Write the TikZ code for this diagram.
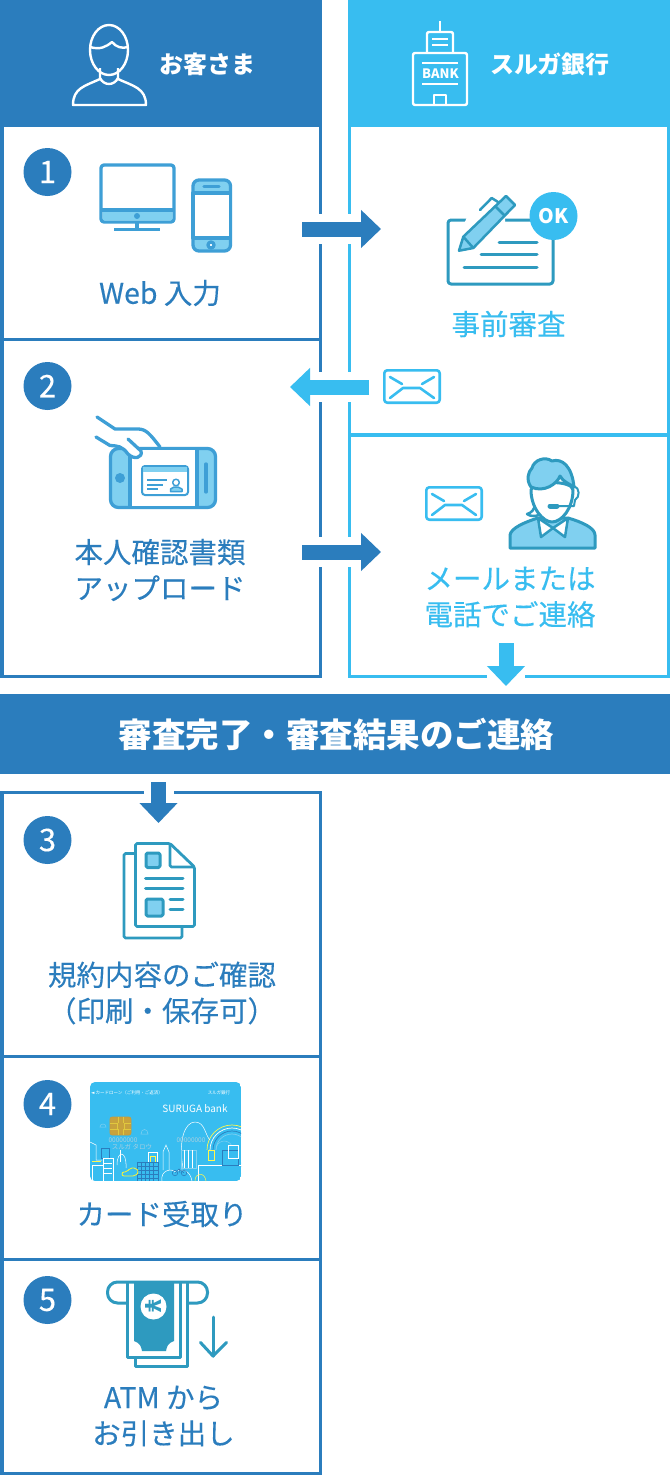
\documentclass[tikz,border=0pt]{standalone}
\usepackage{fontspec}
\setmainfont{Noto Sans CJK JP}
\newfontfamily\medfont{Noto Sans CJK JP}[FakeBold=0.25]
\newfontfamily\symfont{DejaVu Sans}
\usetikzlibrary{arrows.meta}
\definecolor{custblue}{HTML}{2B7DBD}
\definecolor{bankblue}{HTML}{38BDF0}
\definecolor{iconblue}{HTML}{3E9FD6}
\definecolor{icontint}{HTML}{80D0F0}
\definecolor{iconteal}{HTML}{2E9ABF}
\definecolor{chipgold}{HTML}{C8A23C}
\definecolor{cardgrey}{HTML}{A8CFE0}
\tikzset{
  stepbox/.style={draw=custblue,line width=3.5pt,fill=white,outer sep=0pt},
  bankbox/.style={draw=bankblue,line width=3.5pt,fill=white,outer sep=0pt},
  stepnum/.style={circle,fill=custblue,text=white,minimum size=48pt,inner sep=0pt,font=\medfont\fontsize{31}{31}\selectfont},
  steptext/.style={text=custblue,align=center,font=\medfont\fontsize{28.5}{36}\selectfont},
  banktext/.style={text=bankblue,align=center,font=\medfont\fontsize{28.5}{36}\selectfont},
  headtext/.style={text=white,font=\bfseries\fontsize{24}{24}\selectfont},
  blockarrow/.style={line width=15pt,-{Triangle[length=20pt,width=37pt]},preaction={draw=white,line width=#1,-}},
  blockarrow/.default=30pt,
  iconline/.style={draw=iconblue,line width=3.3pt,line join=round},
  tealline/.style={draw=iconteal,line width=3pt,line join=round},
  headline/.style={draw=white,line width=2.4pt,line join=round},
  mailline/.style={draw=bankblue,line width=2.6pt,line cap=round,line join=round},
  cityline/.style={draw=white,line width=.5pt},
  pics/mail/.style={code={
    \draw[mailline,rounded corners=3pt] (1.3,1.3) rectangle (56.7,33.7);
    \draw[mailline] (7,8) -- (19,15);
    \draw[mailline] (39,15) -- (51,8);
    \draw[mailline] (7,29) -- (20,19) -- (37,19) -- (51,29);
  }}
}
\begin{document}
\begin{tikzpicture}[x=1pt,y=-1pt]
\useasboundingbox (0,0) rectangle (670,1475);

% Column heads
\fill[custblue] (0,0) rectangle (322,127);
\fill[bankblue] (348,0) rectangle (670,127);
\node[headtext] (custhead) at (207,64) {お客さま};
\node[headtext] (bankhead) at (550,64) {スルガ銀行};

% Boxes
\node[stepbox,minimum width=318.5pt,minimum height=214pt] (stepone) at (161,232.7) {};
\node[stepbox,minimum width=318.5pt,minimum height=336.8pt] (steptwo) at (161,508.1) {};
\node[bankbox,minimum width=318.6pt,minimum height=309.3pt] (bankone) at (509,280.35) {};
\node[bankbox,minimum width=318.6pt,minimum height=241.5pt] (banktwo) at (509,555.7) {};
\node[stepbox,minimum width=318.5pt,minimum height=264pt] (stepthree) at (161,924.5) {};
\node[stepbox,minimum width=318.5pt,minimum height=203pt] (stepfour) at (161,1158) {};
\node[stepbox,minimum width=318.5pt,minimum height=213.8pt] (stepfive) at (161,1366.4) {};

% Band
\fill[custblue] (0,694) rectangle (670,774);
\node[text=white,inner sep=0pt,font=\bfseries\fontsize{33.5}{33.5}\selectfont] (band) at (336.5,734) {審査完了・審査結果のご連絡};

% Numbers
\node[stepnum] (numone) at (47.5,172) {1};
\node[stepnum] (numtwo) at (47.5,386) {2};
\node[stepnum] (numthree) at (47.5,840) {3};
\node[stepnum] (numfour) at (47.5,1104) {4};
\node[stepnum] (numfive) at (47.5,1300) {5};

% Labels
\node[steptext] (weblabel) at (160,293) {Web 入力};
\node[banktext] (reviewlabel) at (508.5,324) {事前審査};
\node[steptext] (uploadlabel) at (160,570) {本人確認書類\\アップロード};
\node[banktext] (contactlabel) at (510,597) {メールまたは\\電話でご連絡};
\node[steptext] (termslabel) at (162,993) {規約内容のご確認\\（印刷・保存可）};
\node[steptext] (cardlabel) at (162,1214) {カード受取り};
\node[steptext] (atmlabel) at (163.5,1416) {ATM から\\お引き出し};

% Arrows
\coordinate (webout) at (302,229);
\coordinate (reviewin) at (381,229);
\coordinate (mailout) at (369,387);
\coordinate (uploadin) at (290,387);
\coordinate (uploadout) at (302,552);
\coordinate (contactin) at (381,552);
\coordinate (contactout) at (506,643);
\coordinate (bandin) at (506,686);
\coordinate (bandout) at (158.5,782);
\coordinate (termsin) at (158.5,823);
\draw[blockarrow,custblue] (webout) -- (reviewin);
\draw[blockarrow,bankblue] (mailout) -- (uploadin);
\draw[blockarrow,custblue] (uploadout) -- (contactin);
\draw[blockarrow=38pt,bankblue] (contactout) -- (bandin);
\draw[blockarrow,custblue] (bandout) -- (termsin);

% Customer
\draw[headline] (109,50) ellipse (19 and 25);
\draw[headline] (90,47) .. controls (100,50) and (106,47) .. (112,42) .. controls (116,47) and (122,49) .. (128,47);
\draw[headline] (100,68) -- (100,78) .. controls (104,86) and (114,86) .. (118,78) -- (118,68);
\draw[headline] (100,79) .. controls (85,86) and (73,88) .. (73,105) -- (146,105) .. controls (146,88) and (133,86) .. (118,79);

% Bank
\draw[headline] (440,21) -- (440,32);
\draw[headline,rounded corners=2pt] (427,53) -- (427,32) -- (453,32) -- (453,53);
\draw[headline] (432,39) -- (448,39) (432,45) -- (448,45);
\draw[headline,rounded corners=2pt] (413,53) rectangle (467,105);
\draw[headline] (422,63) -- (458,63) (422,84) -- (458,84);
\draw[headline] (434,105) -- (434,95) -- (446,95) -- (446,105);
\node[text=white,inner sep=0pt,font=\bfseries\fontsize{13}{13}\selectfont] (banksign) at (440.5,74) {BANK};

% Monitor
\draw[iconline,fill=white,rounded corners=3pt] (101,165) rectangle (174,222);
\fill[icontint,rounded corners=2pt] (102.5,211) rectangle (172.5,220.5);
\draw[iconline] (101,210) -- (174,210);
\fill[iconblue] (137,216) circle (3);
\draw[iconline] (137,222) -- (137,229.5);
\draw[iconline] (114,229.5) -- (160,229.5);

% Phone
\draw[iconline,fill=icontint,rounded corners=6pt] (193,180) rectangle (230.5,251);
\draw[iconline,fill=white] (193,193) rectangle (230.5,238);
\draw[iconline,line cap=round] (204,186.5) -- (219,186.5);
\draw[iconline,fill=white] (211,245) circle (3);

% Pen on form
\draw[tealline,rounded corners=3pt] (448,220) rectangle (553,284);
\draw[tealline,line cap=round] (499,242) -- (537,242);
\draw[tealline,line cap=round] (481,254) -- (537,254);
\draw[tealline,line cap=round] (464,267) -- (537,267);
\fill[white] (470,210) -- (505,210) -- (505,225) -- (470,255) -- (455,245) -- cycle;
\draw[tealline,line width=2.5pt,fill=icontint] (506,196) -- (515,205) -- (473.3,248) -- (459,250.7) -- (463.3,236.7) -- cycle;
\draw[tealline,line width=2.5pt] (463.3,236.7) -- (473.3,248) (495,206) -- (505,216);
\draw[tealline,line width=2.5pt,line cap=round] (480,210) -- (491.7,198) -- (498,202);
\node[circle,fill=bankblue,text=white,minimum size=48pt,inner sep=0pt,font=\bfseries\fontsize{20}{20}\selectfont] (okmark) at (553.5,216) {OK};

% Mail
\pic at (383,369) {mail};
\pic at (425,486) {mail};

% Operator
\draw[tealline,fill=icontint] (510,548) -- (510,535) .. controls (511,528) and (525,522) .. (538,518) -- (568,518) .. controls (582,522) and (595,528) .. (595,535) -- (595,548) -- cycle;
\draw[tealline,line width=2.5pt,fill=white] (538,518) -- (541,537) -- (553,528) -- (565,537) -- (568,518) -- (553,528) -- cycle;
\draw[tealline,line width=2.5pt] (535,503) .. controls (535,510) and (531,513) .. (527,514) .. controls (531,517) and (536,516) .. (539,515);
\draw[tealline,fill=white] (531,490) .. controls (531,508) and (543,522) .. (552,522) .. controls (562,522) and (573,508) .. (573,490) .. controls (573,480) and (531,480) .. (531,490) -- cycle;
\draw[tealline,fill=icontint] (531,487) .. controls (526,480) and (528,472) .. (532,468) .. controls (534,460) and (545,456) .. (552,461) .. controls (562,458) and (572,466) .. (574,487) .. controls (570,484) and (563,482) .. (560,476) .. controls (557,484) and (544,493) .. (531,487) -- cycle;
\draw[tealline,line width=2pt] (574,486) .. controls (580,488) and (580,497) .. (575,500) -- (574,506) -- (558,506);
\draw[iconteal,line width=5pt,line cap=round] (550,506) -- (557,506);

% Phone with card
\draw[iconline,fill=icontint,rounded corners=8pt] (110.5,448.5) rectangle (215.5,507.5);
\draw[iconline,fill=white] (130,448.5) rectangle (197,507.5);
\fill[iconblue] (120,478) circle (5);
\draw[iconline,line cap=round] (206,464) -- (206,492);
\draw[iconline,line width=2pt,fill=white,rounded corners=3pt] (142,466) rectangle (188,495);
\fill[icontint] (143,467) rectangle (187,472);
\draw[iconline,line width=1.5pt] (147,480) -- (167,480) (147,485) -- (163,485) (147,489) -- (158,489);
\draw[iconline,line width=1.5pt,fill=icontint] (170.5,491.5) -- (170.5,489) -- (174,487) -- (178,487) -- (182,489) -- (182,491.5) -- cycle;
\draw[iconline,line width=1.5pt,fill=white] (176,482.5) circle (3.3);
\draw[iconline,line cap=round] (97,417) -- (115,429) -- (138,429) .. controls (146,429) and (150,434) .. (160,447);
\draw[iconline,line cap=round,fill=white] (96,437) -- (110,445.5) .. controls (118,446) and (122,446) .. (128,454) .. controls (134,460) and (143,458) .. (141,451) -- (128,439);

% Document
\draw[tealline,line width=2.8pt,rounded corners=1.5pt] (135,853.5) -- (124,853.5) -- (124,938) -- (182,938) -- (182,927);
\draw[tealline,line width=2.8pt,rounded corners=1.5pt] (170,843.5) -- (135.5,843.5) -- (135.5,926.5) -- (194.5,926.5) -- (194.5,867) -- cycle;
\draw[tealline,line width=2.8pt,rounded corners=1.5pt] (170,843.5) -- (170,867) -- (194.5,867);
\draw[tealline,fill=icontint,rounded corners=1.5pt] (146,853) rectangle (160,867.5);
\draw[tealline,fill=icontint,rounded corners=1.5pt] (146,899) rectangle (163,916);
\draw[tealline,line cap=round] (145.5,878.5) -- (183,878.5) (145.5,888.5) -- (183,888.5) (170,899) -- (183,899) (170,909) -- (183,909);

% Card
\begin{scope}
\clip[rounded corners=5pt] (90,1082) rectangle (241,1181);
\fill[bankblue] (90,1082) rectangle (241,1181);
\foreach \r/\c in {25/yellow!70!white,22/white,19/custblue,16/icontint}
  \draw[\c,line width=.7pt] (232,1150) circle (\r);
\fill[bankblue] (195,1150) rectangle (241,1181);
% clouds
\draw[cityline,icontint] (100,1127) .. controls (100,1123) and (106,1123) .. (106,1127) -- cycle;
\draw[cityline,icontint] (141,1134) .. controls (141,1128) and (148,1128) .. (148,1134) -- cycle;
\draw[cityline] (183,1168) .. controls (178,1140) and (185,1122) .. (195,1122) .. controls (205,1122) and (205,1135) .. (210,1140);
\draw[cityline,icontint] (216,1150) .. controls (216,1140) and (228,1138) .. (232,1146);
% buildings
\draw[cityline] (90,1142) -- (96,1145) -- (96,1160) -- (102,1160);
\draw[custblue,line width=.6pt] (101,1148) rectangle (109,1158);
\draw[white,line width=.7pt] (103,1158) rectangle (113,1181);
\draw[cityline] (104,1163) -- (112,1163) (104,1168) -- (112,1168) (104,1173) -- (112,1173);
\draw[cityline] (92,1165) rectangle (103,1181);
\draw[yellow!70!white,line width=.5pt] (92,1161) -- (101,1161);
\draw[cityline] (117,1165) .. controls (117,1150) and (127,1150) .. (126,1168);
\draw[cityline] (120,1162) -- (120,1150) (148,1162) -- (148,1152) -- (157,1152) -- (157,1162);
\draw[yellow!70!white,line width=.5pt] (150,1156) rectangle (155,1162);
\foreach \g in {137,141,145,149,153,158}
  \draw[custblue,line width=.6pt] (\g,1162) -- (\g,1181);
\foreach \g in {1162,1166,1170,1174,1178}
  \draw[custblue,line width=.6pt] (137,\g) -- (158,\g);
\draw[yellow!80!white,line width=.8pt,rounded corners=2pt] (122,1176) -- (122,1172) -- (127,1172) -- (130,1168) -- (136,1168) -- (139,1172) -- (135,1176) -- cycle;
\draw[cityline] (162,1181) .. controls (160,1170) and (172,1168) .. (175,1172) .. controls (182,1168) and (190,1170) .. (192,1181);
\draw[cityline] (163,1170) -- (163,1152) -- (166,1145) -- (169,1152) -- (169,1170);
\draw[icontint,line width=.5pt] (181,1168) rectangle (196,1150);
\foreach \g in {184,188,192}
  \draw[white,line width=.4pt] (\g,1150) -- (\g,1168);
\draw[cityline] (198,1181) rectangle (241,1165);
\draw[custblue,line width=.6pt] (222,1165) rectangle (238,1150);
\draw[yellow!70!white,line width=.5pt] (208,1150) rectangle (214,1160);
\draw[cityline] (228,1145) rectangle (238,1158);
\draw[yellow!70!white,line width=.5pt] (195,1181) .. controls (195,1172) and (205,1172) .. (206,1181);
% bicycle
\draw[custblue,line width=.6pt] (175,1173) circle (2.7) (184,1173) circle (2.7);
\draw[custblue,line width=.6pt] (175,1173) -- (179,1169) -- (184,1173) (179,1169) -- (180,1173);
\end{scope}
\draw[fill=chipgold,draw=chipgold!80!brown,rounded corners=2pt,line width=.6pt] (110,1117) rectangle (131,1135);
\draw[yellow!40!chipgold,line width=.6pt] (110,1123) -- (117,1123) -- (117,1129) -- (110,1129) (131,1123) -- (124,1123) -- (124,1129) -- (131,1129) (118,1117) -- (118,1123) (123,1117) -- (123,1123) (118,1135) -- (118,1129) (123,1135) -- (123,1129);
\node[text=white,inner sep=0pt,font=\fontsize{10}{10}\selectfont] (cardbrand) at (195,1109) {SURUGA bank};
\node[text=white,inner sep=0pt,font=\fontsize{4.5}{5}\selectfont] (cardtop) at (127,1093) {{\symfont ◄} カードローン（ご利用・ご返済）};
\node[text=white,inner sep=0pt,font=\fontsize{4.5}{5}\selectfont] (cardbank) at (219,1093) {スルガ銀行};
\node[text=cardgrey,inner sep=0pt,font=\fontsize{6.5}{6.5}\selectfont] (cardnuma) at (123,1140) {00000000};
\node[text=cardgrey,inner sep=0pt,font=\fontsize{6.5}{6.5}\selectfont] (cardnumb) at (191,1140) {00000000};
\node[text=cardgrey,inner sep=0pt,font=\fontsize{6.5}{6.5}\selectfont] (cardname) at (132,1147) {スルガ タロウ};

% ATM
\draw[tealline,rounded corners=10pt] (127,1303) -- (107.5,1303) -- (107.5,1282) -- (207.5,1282) -- (207.5,1303) -- (188,1303);
\draw[tealline] (127,1282) -- (127,1357) -- (180,1357) -- (180,1282);
\draw[tealline] (135,1357) -- (135,1366) -- (187.5,1366) -- (187.5,1282);
\fill[iconteal] (134,1283) -- (134,1341) .. controls (140,1343) and (141,1346) .. (142,1351) -- (166,1351) .. controls (167,1346) and (168,1343) .. (174,1341) -- (174,1283) -- cycle;
\node[circle,fill=white,text=iconteal,minimum size=26pt,inner sep=0pt,rotate=-90,font=\bfseries\fontsize{22}{22}\selectfont] (yenmark) at (153.5,1306.5) {¥};
\draw[tealline,line cap=round] (213,1317) -- (213,1356);
\draw[tealline,line cap=round] (200.5,1342.5) -- (213,1356) -- (226.5,1342.5);
\end{tikzpicture}
\end{document}
